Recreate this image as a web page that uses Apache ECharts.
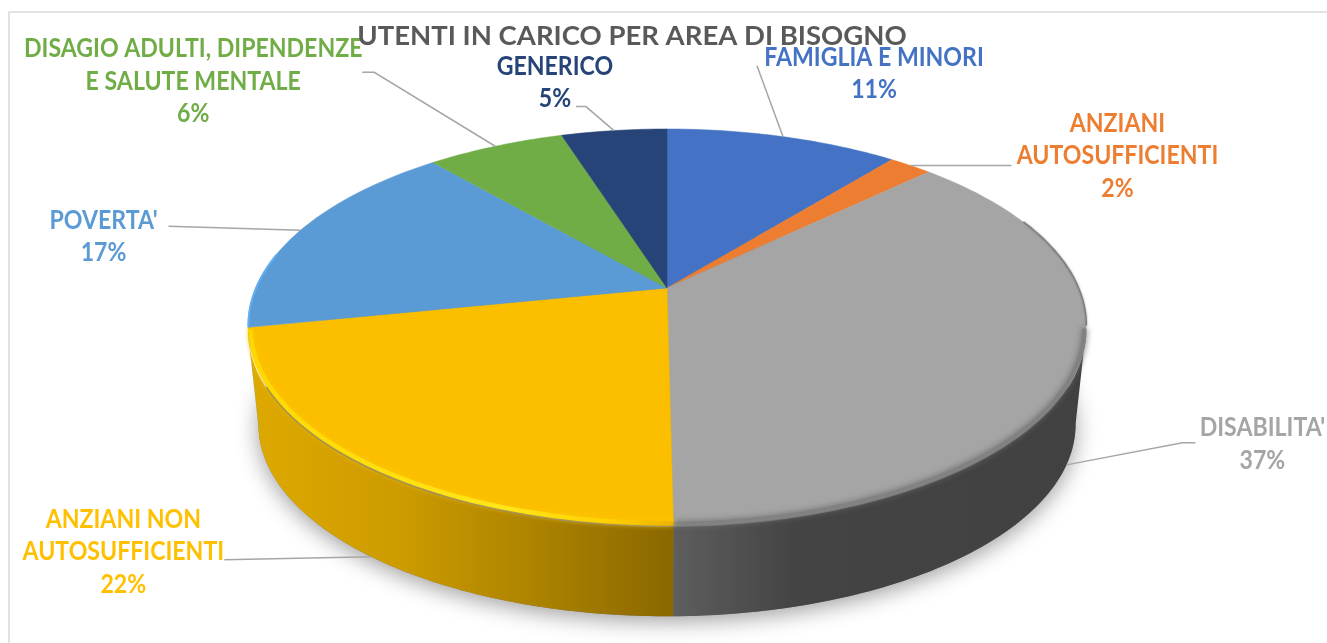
<!DOCTYPE html>
<html>
<head>
<meta charset="utf-8">
<style>html,body{margin:0;padding:0;background:#fff}#c{width:1327px;height:643px}</style>
<script src="https://cdn.jsdelivr.net/npm/echarts@6/dist/echarts.min.js"></script>
</head>
<body>
<div id="c"></div>
<script>
// ---- data ----
const chartTitle = "UTENTI IN CARICO PER AREA DI BISOGNO";
const categories = ["FAMIGLIA E MINORI", "ANZIANI\nAUTOSUFFICIENTI", "DISABILITA'", "ANZIANI NON\nAUTOSUFFICIENTI", "POVERTA'", "DISAGIO ADULTI, DIPENDENZE\nE SALUTE MENTALE", "GENERICO"];
const values = [10.8, 2.0, 37.0, 22.0, 16.9, 6.4, 4.9];

// ---- styles ----
const faceColors = ["#4472C4", "#ED7D31", "#A5A5A5", "#FBBF00", "#5B9BD5", "#70AD47", "#264478"];
const labelColors = ["#4472C4", "#ED7D31", "#A5A5A5", "#FFC000", "#5B9BD5", "#70AD47", "#264478"];
const FONT = "Lato";

// ---- pie projection (perspective-tilted disc) ----
const CX = 667, CY = 288, K = 0.191, A = 189.4, B = 411.3;
const DEPTH = 100, BOTTOM_SCALE = 0.975;
const total = values.reduce((a, b) => a + b, 0);
const bounds = [0];
values.forEach(v => bounds.push(bounds[bounds.length - 1] + v / total * 360));

function proj(deg, scale, dy) {
  const t = deg * Math.PI / 180, u = Math.sin(t), v = -Math.cos(t), w = 1 - K * v;
  return [CX + scale * B * u / w, CY + dy + scale * A * v / w];
}
function arc(a0, a1, scale, dy) {
  const pts = [], n = Math.max(2, Math.ceil(Math.abs(a1 - a0)));
  for (let i = 0; i <= n; i++) pts.push(proj(a0 + (a1 - a0) * i / n, scale, dy));
  return pts;
}
// visible part of the side wall: between the two widest points of the ellipse
const VIS0 = 90 + Math.asin(K) * 180 / Math.PI, VIS1 = 270 - Math.asin(K) * 180 / Math.PI;
const sideFills = {
  2: {type:'linear', global:true, x:672, y:0, x2:1080, y2:0, colorStops:[{offset:0,color:'#5E5E5E'},{offset:.3,color:'#444444'},{offset:1,color:'#414141'}]},
  3: {type:'linear', global:true, x:258, y:0, x2:672, y2:0, colorStops:[{offset:0,color:'#DDA800'},{offset:.35,color:'#CC9B00'},{offset:.75,color:'#A47C00'},{offset:1,color:'#8A6800'}]}
};
const rimStyles = {
  2: {w:4.5, c:'#828282', blur:6, bc:'#6A6A6A', s:.996, dy:3},
  3: {w:4.5, c:{type:'linear', global:true, x:250, y:0, x2:672, y2:0, colorStops:[{offset:0,color:'#FFD800'},{offset:.6,color:'#FFE61A'},{offset:.85,color:'#FFD000'},{offset:1,color:'#F0B400'}]},
      blur:5, bc:'#FFC800', s:.994, dy:2.5}
};

function renderShadow() {
  return {
    type: 'polygon', silent: true,
    shape: {points: arc(0, 360, BOTTOM_SCALE, DEPTH)},
    style: {fill: '#777', shadowBlur: 22, shadowColor: 'rgba(0,0,0,.38)', shadowOffsetY: 5}
  };
}
function renderSlice(params, api) {
  const i = params.dataIndex, a0 = bounds[i], a1 = bounds[i + 1];
  const children = [];
  const s0 = Math.max(a0, VIS0), s1 = Math.min(a1, VIS1);
  if (s1 > s0) {
    const pts = arc(s0, s1, 1, 5).concat(arc(s1, s0, BOTTOM_SCALE, DEPTH));
    children.push({type:'polygon', shape:{points:pts}, style:{fill: sideFills[i] || faceColors[i]}});
  }
  children.push({
    type:'polygon',
    shape:{points:[[CX, CY]].concat(arc(a0, a1, 1, 0))},
    style:{fill: api.visual('color'), stroke: api.visual('color'), lineWidth: .5}
  });
  if (s1 > s0 && rimStyles[i]) {
    const r = rimStyles[i];
    children.push({
      type:'polyline', shape:{points: arc(s0, s1, r.s, r.dy)},
      style:{fill:'none', stroke:r.c, lineWidth:r.w, shadowBlur:r.blur, shadowColor:r.bc}
    });
  }
  if (i === 2) {
    children.push({type:'polyline', shape:{points: arc(a0 + 22, VIS0, 1.001, 0)},
      style:{fill:'none', stroke:'#7A7A7A', lineWidth:1.2, shadowBlur:2, shadowColor:'#666'}});
  }
  if (i === 4) {
    children.push({type:'polyline', shape:{points: arc(a0, a0 + 22, .999, 0)},
      style:{fill:'none', stroke:'#63AEF2', lineWidth:2}});
  }
  return {type:'group', children};
}

// label placement, relative to the slice's rim point (dx, dy of label centre) and leader path
const labelLayout = [
  {dx: 91,  dy: -63, leader: [[-26, -71]]},
  {dx: 207, dy: -10, leader: [[101, 0]]},
  {dx: 196, dy: -21, leader: [[116, -22], [129, -22]], front: true},
  {dx: -248, dy: -5, leader: [[-147, 3]], front: true},
  {dx: -197, dy: 6,  leader: [[-132, -4]]},
  {dx: -302, dy: -65, leader: [[-121, -74], [-133, -74]]},
  {dx: -59, dy: -48, leader: [[-28, -24], [-38, -24]]}
];
function renderLabel(params, api) {
  const i = params.dataIndex, mid = (bounds[i] + bounds[i + 1]) / 2, L = labelLayout[i];
  const p = L.front ? proj(mid, BOTTOM_SCALE, DEPTH) : proj(mid, 1, 0);
  const pts = [p].concat(L.leader.map(o => [p[0] + o[0], p[1] + o[1]]));
  return {type:'group', children:[
    {type:'polyline', silent:true, shape:{points:pts}, style:{fill:'none', stroke:'#A6A6A6', lineWidth:1.5}},
    {type:'text', x:p[0] + L.dx, y:p[1] + L.dy, scaleX:.872, style:{
      x:0, y:0,
      text: categories[i] + "\n" + Math.round(values[i]) + "%",
      align:'center', verticalAlign:'middle',
      fontFamily:FONT, fontWeight:700, fontSize:26.5, lineHeight:32.5, fill:labelColors[i]
    }}
  ]};
}

const chart = echarts.init(document.getElementById('c'), null, {renderer:'canvas'});
chart.setOption({
  animation:false,
  backgroundColor:'#fff',
  title:{text:chartTitle, left:627, top:17, textAlign:'center', z:10,
    textStyle:{fontFamily:FONT, fontWeight:700, fontSize:27.5, color:'#595959'}},
  graphic:[{type:'polyline', silent:true, z:-1,
    shape:{points:[[9,643],[9,12],[1327,12]]},
    style:{fill:'none', stroke:'#D9D9D9', lineWidth:1.5}}],
  series:[
    {type:'custom', coordinateSystem:'none', name:'ombra', silent:true, z:1, renderItem:renderShadow, data:[0]},
    {type:'custom', coordinateSystem:'none', name:'aree', silent:true, z:2, renderItem:renderSlice,
      data:values.map((v,i)=>({value:v, name:categories[i], itemStyle:{color:faceColors[i]}}))},
    {type:'custom', coordinateSystem:'none', name:'etichette', silent:true, z:3, renderItem:renderLabel,
      data:values.map((v,i)=>({value:v, name:categories[i]}))}
  ]
});
</script>
</body>
</html>
